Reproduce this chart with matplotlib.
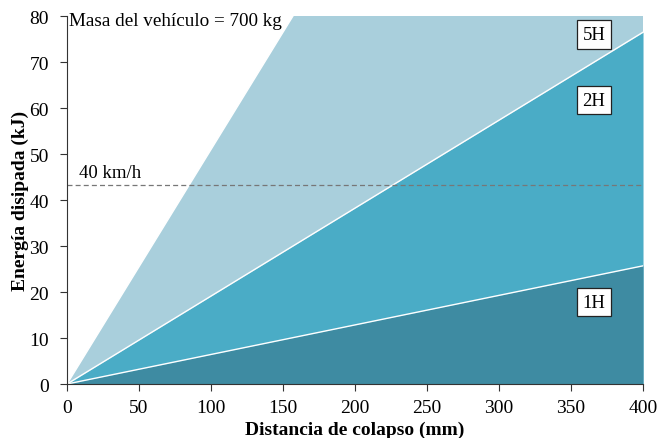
import matplotlib
matplotlib.use("Agg")
import matplotlib.pyplot as plt
import numpy as np

plt.rcParams['font.family'] = ['Liberation Serif', 'DejaVu Serif']

# Data
distance_mm = [0, 400]
energy_1H = [0, 25.7]
energy_2H = [0, 76.5]
energy_5H = [0, 204.0]
speed_line_kj = 43.2
speed_label = "40 km/h"
mass_label = "Masa del vehículo = 700 kg"
series_labels = ["1H", "2H", "5H"]
label_pos = [(366, 17.8), (366, 61.7), (366, 76.0)]
xticks = [0, 50, 100, 150, 200, 250, 300, 350, 400]
yticks = [0, 10, 20, 30, 40, 50, 60, 70, 80]

c_light = "#a9cfdc"
c_mid = "#4aacc6"
c_dark = "#3e8ba2"

fig = plt.figure(figsize=(6.61, 4.39), dpi=100)
ax = fig.add_axes([0.1014, 0.123, 0.8714, 0.838])

ax.fill_between(distance_mm, 0, energy_5H, color=c_light, lw=0)
ax.fill_between(distance_mm, 0, energy_2H, color=c_mid, lw=0)
ax.fill_between(distance_mm, 0, energy_1H, color=c_dark, lw=0)
for e in (energy_5H, energy_2H, energy_1H):
    ax.plot(distance_mm, e, color="white", lw=1.0)

ax.axhline(speed_line_kj, color="#777777", lw=0.9, ls=(0, (4, 2.5)))
ax.text(8, speed_line_kj + 0.9, speed_label, fontsize=13.5, va="bottom", ha="left")
ax.text(1.5, 80.9, mass_label, fontsize=13.8, va="top", ha="left")

for lab, (x, y) in zip(series_labels, label_pos):
    ax.text(x, y, lab, fontsize=13.5, ha="center", va="center",
            bbox=dict(boxstyle="square,pad=0.3", fc="white", ec="#222222", lw=0.9))

ax.set_xlim(0, 400)
ax.set_ylim(0, 80)
ax.set_xticks(xticks)
ax.set_yticks(yticks)
ax.tick_params(labelsize=14, direction="out", length=5, color="#333333")
ax.tick_params(axis="x", pad=6)
ax.tick_params(axis="y", pad=8)
for s in ("top", "right"):
    ax.spines[s].set_visible(False)
for s in ("left", "bottom"):
    ax.spines[s].set_color("#333333")

ax.set_xlabel("Distancia de colapso (mm)", fontsize=14, fontweight="bold", labelpad=3.5)
ax.set_ylabel("Energía disipada (kJ)", fontsize=14, fontweight="bold", labelpad=0)

fig.savefig("out.png", dpi=100)
